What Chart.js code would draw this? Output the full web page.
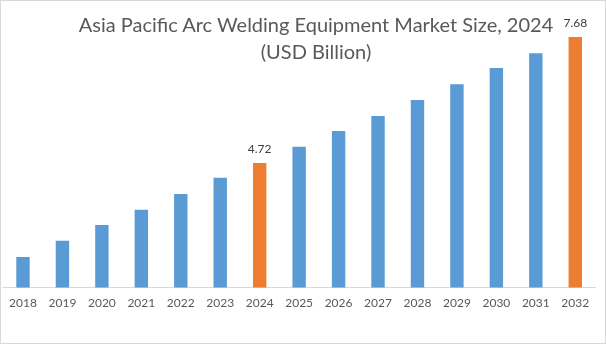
<!DOCTYPE html>
<html>
<head>
<meta charset="utf-8">
<script src="https://cdn.jsdelivr.net/npm/chart.js@4"></script>
<style>
  body { margin: 0; background: #fff; }
  #wrap { position: relative; width: 604px; height: 342px; border: 1px solid #d9d9d9; }
  #titulo {
    position: absolute; left: 0; top: 10px; width: 630px; text-align: center;
    font-family: Lato, sans-serif; font-size: 20px; line-height: 27px; color: #595959;
    pointer-events: none;
  }
</style>
</head>
<body>
<div id="wrap">
  <canvas id="grafica" width="604" height="342"></canvas>
  <div id="titulo">Asia Pacific Arc Welding Equipment Market Size, 2024<br>(USD Billion)</div>
</div>
<script>
// Datos
const anios = ["2018", "2019", "2020", "2021", "2022", "2023", "2024", "2025", "2026", "2027", "2028", "2029", "2030", "2031", "2032"];
const valores = [2.51, 2.89, 3.26, 3.62, 3.99, 4.37, 4.72, 5.10, 5.47, 5.82, 6.20, 6.57, 6.95, 7.30, 7.68];
const etiquetas = { "2024": "4.72", "2032": "7.68" };

const azul = "#5b9bd5";
const naranja = "#ed7d31";
const colores = anios.map(a => etiquetas[a] ? naranja : azul);

// Etiquetas encima de las barras destacadas
const pluginEtiquetas = {
  id: "etiquetas",
  afterDatasetsDraw(chart) {
    const ctx = chart.ctx;
    const meta = chart.getDatasetMeta(0);
    ctx.save();
    ctx.font = "12px Lato, sans-serif";
    ctx.fillStyle = "#404040";
    ctx.textAlign = "center";
    ctx.textBaseline = "bottom";
    anios.forEach((a, i) => {
      if (!etiquetas[a]) return;
      const bar = meta.data[i];
      ctx.fillText(etiquetas[a], bar.x, bar.y - 8);
    });
    ctx.restore();
  }
};

const ctx = document.getElementById("grafica").getContext("2d");
new Chart(ctx, {
  type: "bar",
  data: {
    labels: anios,
    datasets: [{
      data: valores,
      backgroundColor: colores,
      barPercentage: 0.34,
      categoryPercentage: 1
    }]
  },
  options: {
    responsive: false,
    animation: false,
    layout: { padding: { top: 20, left: 2, right: 10, bottom: 25 } },
    plugins: {
      legend: { display: false },
      tooltip: { enabled: false }
    },
    scales: {
      x: {
        grid: { display: false, drawTicks: false },
        border: { display: true, color: "#d9d9d9" },
        ticks: { color: "#595959", font: { family: "Lato, sans-serif", size: 12 }, padding: 8 }
      },
      y: {
        display: false,
        min: 1.79,
        max: 8.055
      }
    }
  },
  plugins: [pluginEtiquetas]
});
</script>
</body>
</html>
